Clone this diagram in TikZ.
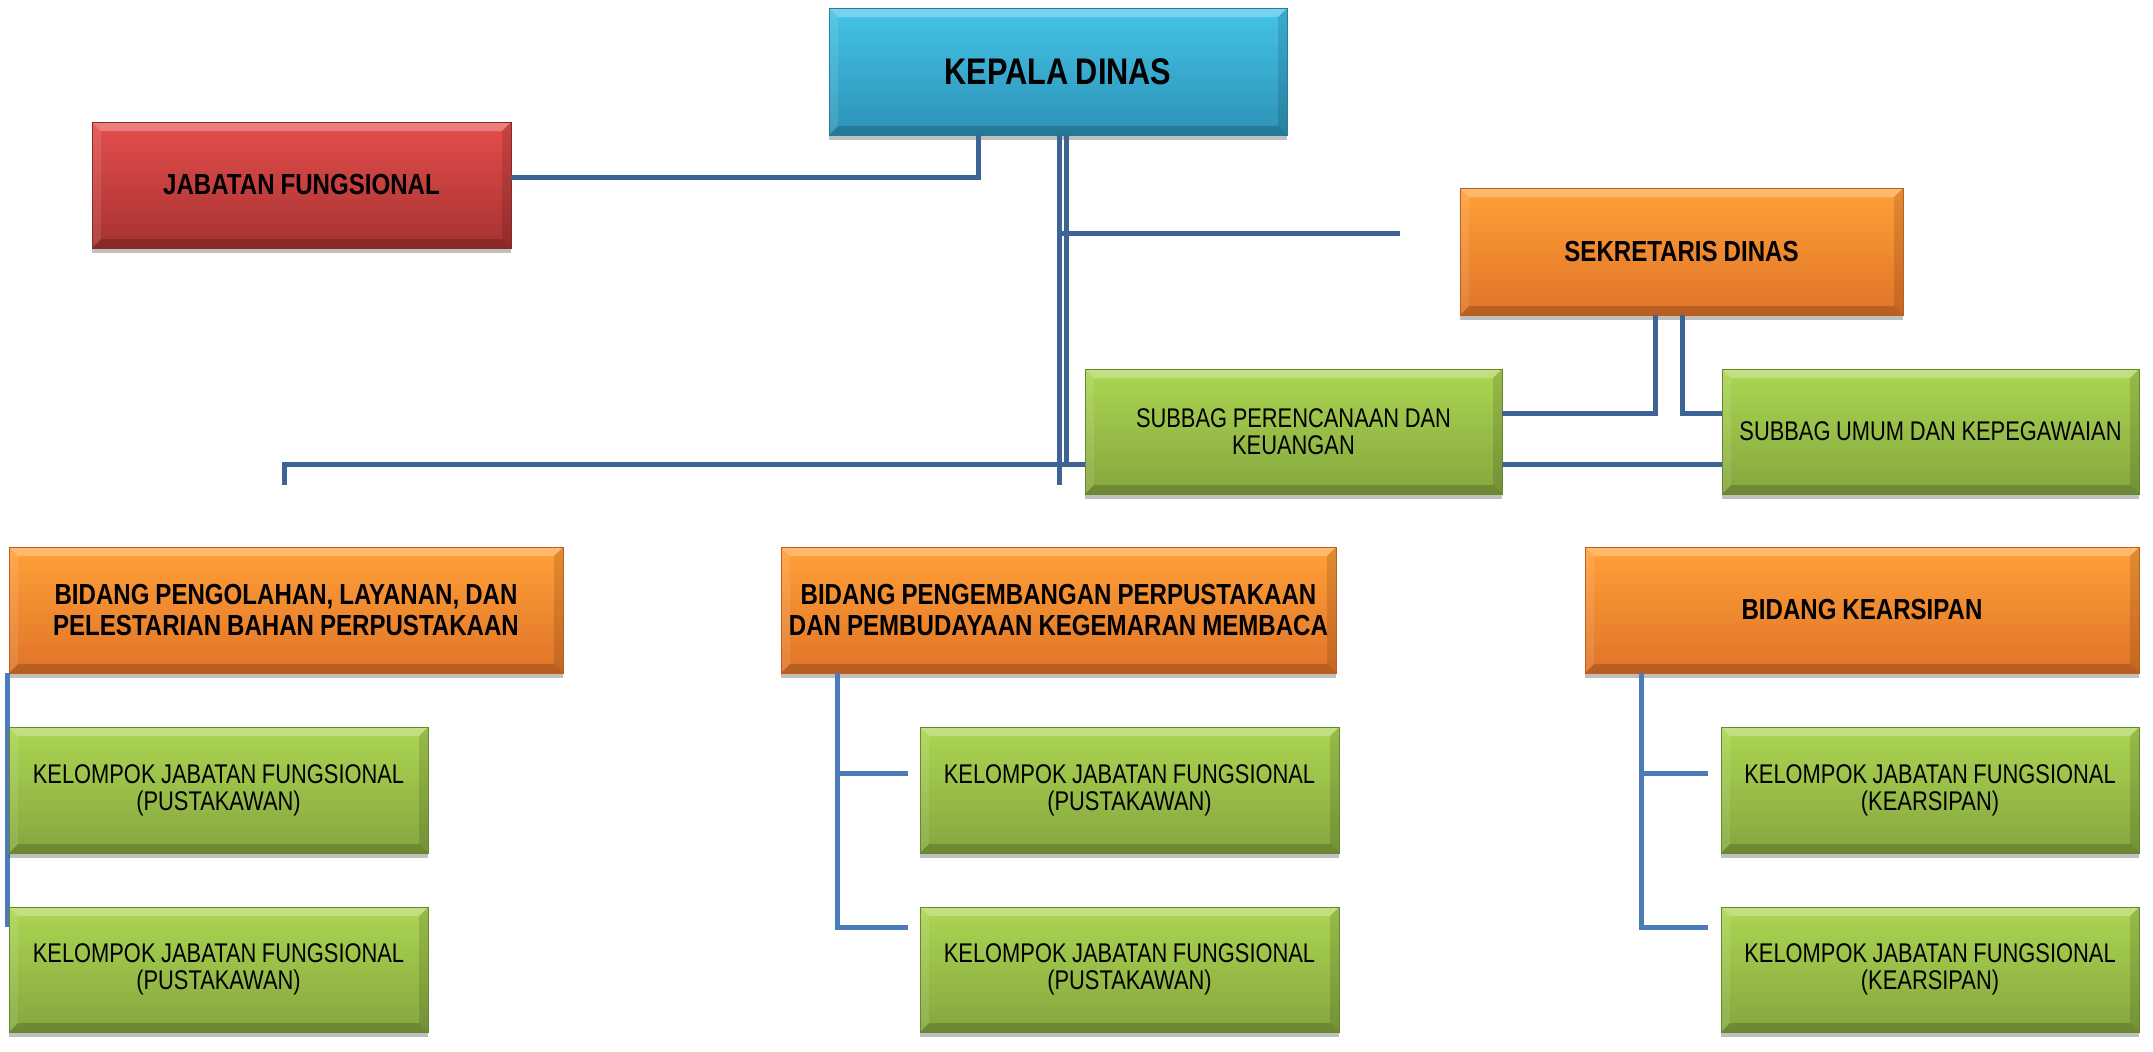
\documentclass[tikz,border=0pt]{standalone}
\usepackage{fontspec}
\newfontfamily\narrowbold{Liberation Sans}[FakeStretch=0.83]
\newfontfamily\narrowreg{Liberation Sans}[FakeStretch=0.81]
\usetikzlibrary{shadows,calc}
\definecolor{bluetop}{RGB}{68,196,232}
\definecolor{bluebot}{RGB}{44,146,182}
\definecolor{blueedge}{RGB}{38,124,156}
\definecolor{redtop}{RGB}{228,78,76}
\definecolor{redbot}{RGB}{166,50,48}
\definecolor{rededge}{RGB}{138,40,38}
\definecolor{orangetop}{RGB}{255,160,56}
\definecolor{orangebot}{RGB}{224,116,40}
\definecolor{orangeedge}{RGB}{188,94,30}
\definecolor{greentop}{RGB}{172,214,82}
\definecolor{greenbot}{RGB}{132,166,62}
\definecolor{greenedge}{RGB}{104,134,46}
\definecolor{lineup}{RGB}{62,100,150}
\definecolor{linelow}{RGB}{76,124,184}
\tikzset{
  box/.style={rectangle, anchor=north west, inner sep=0pt, outer sep=0pt,
    align=center, text=black, line width=0.8pt,
    drop shadow={shadow xshift=0pt, shadow yshift=-5pt, opacity=0.25, fill=black},
    path picture={
      \fill[white,opacity=.28] (path picture bounding box.north west) -- (path picture bounding box.north east)
        -- ([xshift=-9pt,yshift=-9pt]path picture bounding box.north east)
        -- ([xshift=9pt,yshift=-9pt]path picture bounding box.north west) -- cycle;
      \fill[black,opacity=.18] (path picture bounding box.south west) -- (path picture bounding box.south east)
        -- ([xshift=-9pt,yshift=9pt]path picture bounding box.south east)
        -- ([xshift=9pt,yshift=9pt]path picture bounding box.south west) -- cycle;
      \fill[white,opacity=.10] (path picture bounding box.north west)
        -- ([xshift=9pt,yshift=-9pt]path picture bounding box.north west)
        -- ([xshift=9pt,yshift=9pt]path picture bounding box.south west)
        -- (path picture bounding box.south west) -- cycle;
      \fill[black,opacity=.12] (path picture bounding box.north east)
        -- ([xshift=-9pt,yshift=-9pt]path picture bounding box.north east)
        -- ([xshift=-9pt,yshift=9pt]path picture bounding box.south east)
        -- (path picture bounding box.south east) -- cycle;
    }},
  bluebox/.style={box, top color=bluetop, bottom color=bluebot, draw=blueedge},
  redbox/.style={box, top color=redtop, bottom color=redbot, draw=rededge},
  orangebox/.style={box, top color=orangetop, bottom color=orangebot, draw=orangeedge},
  greenbox/.style={box, top color=greentop, bottom color=greenbot, draw=greenedge},
  bigbold/.style={font=\narrowbold\bfseries\fontsize{37}{41}\selectfont, execute at begin node={\spaceskip=7.5pt\relax}},
  boldtxt/.style={font=\narrowbold\bfseries\fontsize{29}{31}\selectfont, execute at begin node={\spaceskip=6pt\relax}},
  regtxt/.style={font=\narrowreg\fontsize{27}{27}\selectfont, execute at begin node={\spaceskip=5.6pt\relax}},
  conn/.style={draw=lineup, line width=5pt, line join=miter},
  connlow/.style={draw=linelow, line width=5pt, line join=miter},
}
\begin{document}
\begin{tikzpicture}[x=1pt,y=-1pt]
\useasboundingbox[fill=white] (0,0) rectangle (2153,1052);

% ---------- connector end points ----------
\coordinate (jk) at (978,177);
\coordinate (va) at (1059,485);
\coordinate (vb) at (1066,464);
\coordinate (hs) at (1400,233);
\coordinate (hl) at (284,485);
\coordinate (sl) at (1655,413);
\coordinate (sr) at (1682,413);
\coordinate (b1x) at (7,927);
\coordinate (t2) at (837,0);
\coordinate (e21) at (908,773);
\coordinate (e22) at (908,927);
\coordinate (t3) at (1641,0);
\coordinate (e31) at (1708,773);
\coordinate (e32) at (1708,927);

% ---------- boxes ----------
\node[bluebox, bigbold, minimum width=458pt, minimum height=127pt, text width=450pt] (kep) at (829,8) {KEPALA DINAS};
\node[redbox, boldtxt, minimum width=419pt, minimum height=126pt, text width=410pt] (jab) at (92,122) {JABATAN FUNGSIONAL};
\node[orangebox, boldtxt, minimum width=443pt, minimum height=127pt, text width=435pt] (sek) at (1460,188) {SEKRETARIS DINAS};
\node[greenbox, regtxt, minimum width=417pt, minimum height=125pt, text width=410pt] (sp) at (1085,369) {SUBBAG PERENCANAAN DAN\\KEUANGAN};
\node[greenbox, regtxt, minimum width=417pt, minimum height=125pt, text width=410pt] (su) at (1722,369) {SUBBAG UMUM DAN KEPEGAWAIAN};

\node[orangebox, boldtxt, minimum width=554pt, minimum height=126pt, text width=550pt] (b1) at (9,547) {BIDANG PENGOLAHAN, LAYANAN, DAN\\PELESTARIAN BAHAN PERPUSTAKAAN};
\node[orangebox, boldtxt, minimum width=555pt, minimum height=126pt, text width=553pt] (b2) at (781,547) {BIDANG PENGEMBANGAN PERPUSTAKAAN\\DAN PEMBUDAYAAN KEGEMARAN MEMBACA};
\node[orangebox, boldtxt, minimum width=554pt, minimum height=126pt, text width=550pt] (b3) at (1585,547) {BIDANG KEARSIPAN};

% lower connectors, drawn before the boxes they run behind
\draw[connlow] (b1.south -| b1x) -- (b1x);
\draw[connlow] (b2.south -| t2) |- (e22);
\draw[connlow] (t2 |- e21) -- (e21);
\draw[connlow] (b3.south -| t3) |- (e32);
\draw[connlow] (t3 |- e31) -- (e31);

\node[greenbox, regtxt, minimum width=419pt, minimum height=126pt, text width=410pt] (k11) at (9,727) {KELOMPOK JABATAN FUNGSIONAL\\(PUSTAKAWAN)};
\node[greenbox, regtxt, minimum width=419pt, minimum height=125pt, text width=410pt] (k12) at (9,907) {KELOMPOK JABATAN FUNGSIONAL\\(PUSTAKAWAN)};
\node[greenbox, regtxt, minimum width=419pt, minimum height=126pt, text width=410pt] (k21) at (920,727) {KELOMPOK JABATAN FUNGSIONAL\\(PUSTAKAWAN)};
\node[greenbox, regtxt, minimum width=419pt, minimum height=125pt, text width=410pt] (k22) at (920,907) {KELOMPOK JABATAN FUNGSIONAL\\(PUSTAKAWAN)};
\node[greenbox, regtxt, minimum width=418pt, minimum height=126pt, text width=410pt] (k31) at (1721,727) {KELOMPOK JABATAN FUNGSIONAL\\(KEARSIPAN)};
\node[greenbox, regtxt, minimum width=418pt, minimum height=125pt, text width=410pt] (k32) at (1721,907) {KELOMPOK JABATAN FUNGSIONAL\\(KEARSIPAN)};

% upper connectors
\draw[conn] (kep.south -| jk) |- (jab.east |- jk);
\draw[conn] (kep.south -| va) -- (va);
\draw[conn] (kep.south -| vb) -- (vb);
\draw[conn] (va |- hs) -- (hs);
\draw[conn] (hl) |- (sp.west |- vb);
\draw[conn] (sek.south -| sl) |- (sp.east |- sl);
\draw[conn] (sek.south -| sr) |- (su.west |- sr);
\draw[conn] (sp.east |- vb) -- (su.west |- vb);
\end{tikzpicture}
\end{document}
